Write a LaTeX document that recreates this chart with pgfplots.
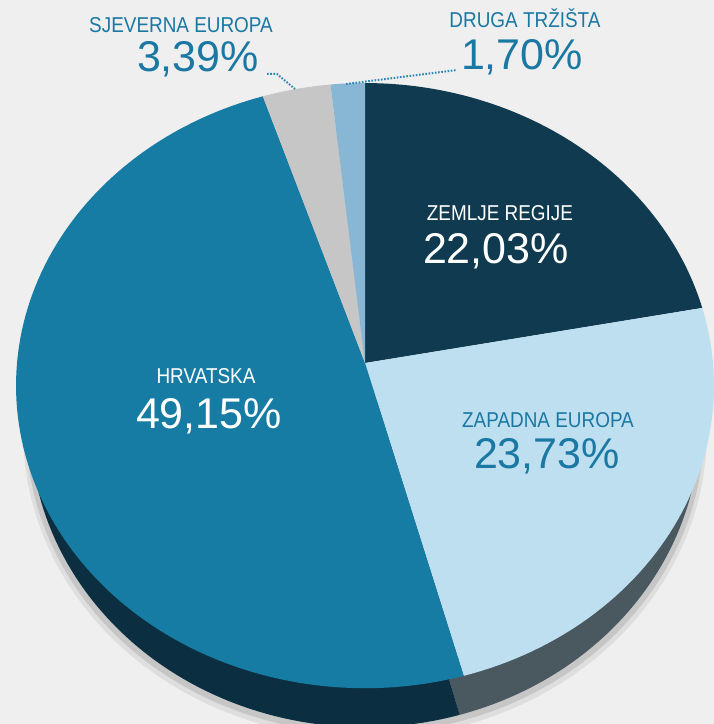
\documentclass[border=0pt]{standalone}
\usepackage{fontspec}
\setmainfont{Liberation Sans}
\newfontfamily\labfont{Liberation Sans}[FakeStretch=0.88]
\usepackage{pgfplots}
\usepackage{pgfplotstable}
\pgfplotsset{compat=1.18}
\definecolor{bg}{HTML}{EFEFEF}
\definecolor{cZem}{HTML}{0F3A50}
\definecolor{cZap}{HTML}{BEDFF0}
\definecolor{cHrv}{HTML}{177CA3}
\definecolor{cSje}{HTML}{C6C6C6}
\definecolor{cDru}{HTML}{88B7D6}
\definecolor{sZap}{HTML}{4A5860}
\definecolor{sHrv}{HTML}{0B2F40}
\definecolor{txt}{HTML}{1A78A3}
\definecolor{lead}{HTML}{2B87B5}

\pgfplotstableread{
name value
Zemlje 22.03
Zapadna 23.73
Hrvatska 49.15
Sjeverna 3.39
Druga 1.70
}\pietable
\pgfplotstablegetelem{0}{value}\of\pietable \let\vA\pgfplotsretval
\pgfplotstablegetelem{1}{value}\of\pietable \let\vB\pgfplotsretval
\pgfplotstablegetelem{2}{value}\of\pietable \let\vC\pgfplotsretval
\pgfplotstablegetelem{3}{value}\of\pietable \let\vD\pgfplotsretval
\pgfplotstablegetelem{4}{value}\of\pietable \let\vE\pgfplotsretval
\pgfmathsetmacro\tA{3.6*\vA}
\pgfmathsetmacro\tB{\tA+3.6*\vB}
\pgfmathsetmacro\tC{\tB+3.6*\vC}
\pgfmathsetmacro\tD{\tC+3.6*\vD}
\pgfmathsetmacro\tE{\tD+3.6*\vE}

\begin{document}
\begin{tikzpicture}
\fill[bg] (0,0) rectangle (714pt,724pt);
\begin{axis}[
  at={(0,0)}, anchor=south west,
  scale only axis, width=714pt, height=724pt,
  xmin=0, xmax=714, ymin=0, ymax=724,
  hide axis, clip=true,
  declare function={
    px(\t)=365+348*sin(\t)/(1+0.0748*cos(\t));
    py(\t)=361+300.9*cos(\t)/(1+0.0748*cos(\t));
    bx(\t)=365+334*sin(\t)/(1+0.0748*cos(\t));
    by(\t)=361-39+300.9*cos(\t)/(1+0.0748*cos(\t));
  },
  every node/.style={inner sep=0pt},
]
% soft shadow
\addplot[fill=black, opacity=0.10, draw=none, domain=0:360, samples=150, variable=\t]
  ({365+338*sin(\t)/(1+0.0748*cos(\t))},{361-43+303*cos(\t)/(1+0.0748*cos(\t))}) -- cycle;
\addplot[fill=black, opacity=0.07, draw=none, domain=0:360, samples=150, variable=\t]
  ({365+341*sin(\t)/(1+0.0748*cos(\t))},{361-46+305*cos(\t)/(1+0.0748*cos(\t))}) -- cycle;
% side (extruded) sectors
\addplot[fill=sZap, draw=none, domain=\tA:\tB, samples=60, variable=\t]
  ({bx(\t)},{by(\t)}) -- (axis cs:365,322) -- cycle;
\addplot[fill=sHrv, draw=none, domain=\tB:\tC, samples=120, variable=\t]
  ({bx(\t)},{by(\t)}) -- (axis cs:365,322) -- cycle;
% top surfaces
\addplot[fill=cZem, draw=none, domain=0:\tA, samples=60, variable=\t]
  ({px(\t)},{py(\t)}) -- (axis cs:365,361) -- cycle;
\addplot[fill=cZap, draw=none, domain=\tA:\tB, samples=60, variable=\t]
  ({px(\t)},{py(\t)}) -- (axis cs:365,361) -- cycle;
\addplot[fill=cHrv, draw=none, domain=\tB:\tC, samples=120, variable=\t]
  ({px(\t)},{py(\t)}) -- (axis cs:365,361) -- cycle;
\addplot[fill=cSje, draw=none, domain=\tC:\tD, samples=20, variable=\t]
  ({px(\t)},{py(\t)}) -- (axis cs:365,361) -- cycle;
\addplot[fill=cDru, draw=none, domain=\tD:\tE, samples=20, variable=\t]
  ({px(\t)},{py(\t)}) -- (axis cs:365,361) -- cycle;
% leader lines
\addplot[lead, line width=2pt, dash pattern=on 1.6pt off 1.6pt] coordinates {(267,650) (277,650) (295,635)};
\addplot[lead, line width=2pt, dash pattern=on 1.6pt off 1.6pt] coordinates {(346,640) (457,654)};
% labels
\node[anchor=base, text=txt, font=\fontsize{21.5}{21.5}\selectfont\labfont] at (axis cs:181,691) {SJEVERNA EUROPA};
\node[anchor=base, text=txt, font=\fontsize{43}{43}\selectfont] at (axis cs:198,652) {3,39\%};
\node[anchor=base, text=txt, font=\fontsize{21.5}{21.5}\selectfont\labfont] at (axis cs:525,696) {DRUGA TRŽIŠTA};
\node[anchor=base, text=txt, font=\fontsize{43}{43}\selectfont] at (axis cs:522,654) {1,70\%};
\node[anchor=base, text=white, font=\fontsize{21.5}{21.5}\selectfont\labfont] at (axis cs:500,503) {ZEMLJE REGIJE};
\node[anchor=base, text=white, font=\fontsize{43}{43}\selectfont] at (axis cs:496,460) {22,03\%};
\node[anchor=base, text=white, font=\fontsize{21.5}{21.5}\selectfont\labfont] at (axis cs:206,340) {HRVATSKA};
\node[anchor=base, text=white, font=\fontsize{43}{43}\selectfont] at (axis cs:209,295) {49,15\%};
\node[anchor=base, text=txt, font=\fontsize{21.5}{21.5}\selectfont\labfont] at (axis cs:548,296) {ZAPADNA EUROPA};
\node[anchor=base, text=txt, font=\fontsize{43}{43}\selectfont] at (axis cs:547,255) {23,73\%};
\end{axis}
\end{tikzpicture}
\end{document}
